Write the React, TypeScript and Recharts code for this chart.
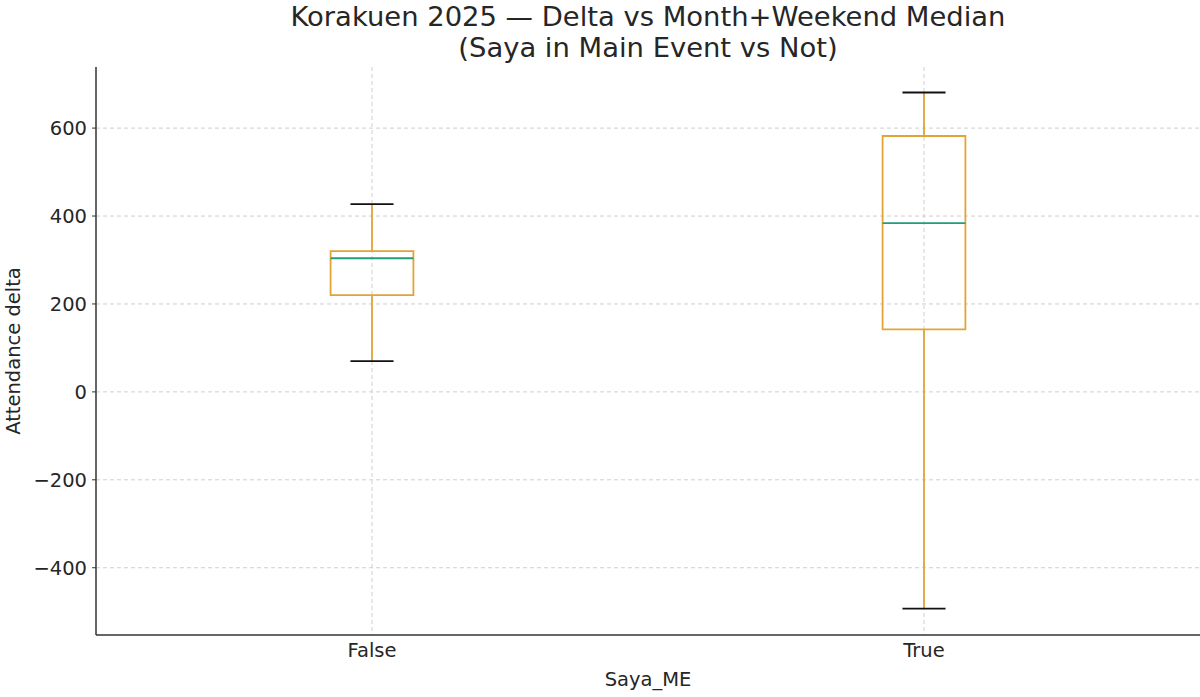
import React from "react";
import {
  ComposedChart,
  XAxis,
  YAxis,
  CartesianGrid,
  ReferenceArea,
  ReferenceLine,
  Scatter,
} from "recharts";

// ---- data ----
const categories = ["False", "True"];
const positions = [1, 2];
const whiskerLow = [70, -493];
const q1 = [220, 142];
const median = [304, 384];
const q3 = [320, 582];
const whiskerHigh = [427, 681];
const yTicks = [-400, -200, 0, 200, 400, 600];

const BOX_HALF = 0.075;
const CAP_HALF = 0.039;
const BOX_COLOR = "#E3A336";
const MEDIAN_COLOR = "#1F9E7A";
const FONT = "'DejaVu Sans', sans-serif";
const TEXT = "#262626";
const SW = 1.8;

const points = positions.map((p, i) => ({ x: p, y: median[i] }));

export default function App() {
  return (
    <div
      style={{
        position: "absolute",
        left: 0,
        top: 0,
        width: 1200,
        height: 697,
        background: "#fff",
        fontFamily: FONT,
        overflow: "hidden",
      }}
    >
      <div
        style={{
          position: "absolute",
          left: 96,
          width: 1104,
          top: 1,
          textAlign: "center",
          fontSize: 27.4,
          lineHeight: "31px",
          color: TEXT,
        }}
      >
        Korakuen 2025 — Delta vs Month+Weekend Median
        <br />
        (Saya in Main Event vs Not)
      </div>
      <ComposedChart
        width={1200}
        height={697}
        data={points}
        margin={{ top: 67, right: 0, bottom: 0, left: 0 }}
      >
        <CartesianGrid
          stroke="#cfcfcf"
          strokeDasharray="4 3"
          verticalValues={positions}
          horizontalValues={yTicks}
        />
        <XAxis
          type="number"
          dataKey="x"
          domain={[0.5, 2.5]}
          ticks={positions}
          allowDataOverflow
          tickFormatter={(v: number) => categories[positions.indexOf(v)] ?? ""}
          tickLine={false}
          tickSize={0}
          tickMargin={8}
          axisLine={{ stroke: "#333", strokeWidth: 1.5 }}
          tick={{ fill: TEXT, fontSize: 19.5, fontFamily: FONT }}
          height={62}
          label={{
            value: "Saya_ME",
            position: "insideBottom",
            offset: 11,
            fill: TEXT,
            fontSize: 19.5,
            fontFamily: FONT,
          }}
        />
        <YAxis
          type="number"
          dataKey="y"
          domain={[-553, 739]}
          ticks={yTicks}
          allowDataOverflow
          tickLine={{ stroke: "#333", strokeWidth: 1 }}
          tickSize={4}
          tickMargin={5}
          width={96}
          axisLine={{ stroke: "#333", strokeWidth: 1.5 }}
          tick={{ fill: TEXT, fontSize: 19.5, fontFamily: FONT }}
          tickFormatter={(v: number) => (v < 0 ? "\u2212" + Math.abs(v) : String(v))}
          label={{
            value: "Attendance delta",
            angle: -90,
            position: "insideLeft",
            offset: 13,
            style: { textAnchor: "middle" },
            fill: TEXT,
            fontSize: 19.5,
            fontFamily: FONT,
          }}
        />
        {positions.map((p, i) => (
          <ReferenceLine
            key={"wl" + i}
            segment={[
              { x: p, y: whiskerLow[i] },
              { x: p, y: q1[i] },
            ]}
            stroke={BOX_COLOR}
            strokeWidth={SW}
            ifOverflow="visible"
          />
        ))}
        {positions.map((p, i) => (
          <ReferenceLine
            key={"wh" + i}
            segment={[
              { x: p, y: q3[i] },
              { x: p, y: whiskerHigh[i] },
            ]}
            stroke={BOX_COLOR}
            strokeWidth={SW}
            ifOverflow="visible"
          />
        ))}
        {positions.map((p, i) => (
          <ReferenceArea
            key={"box" + i}
            x1={p - BOX_HALF}
            x2={p + BOX_HALF}
            y1={q1[i]}
            y2={q3[i]}
            fill="none"
            fillOpacity={0}
            stroke={BOX_COLOR}
            strokeWidth={SW}
            ifOverflow="visible"
          />
        ))}
        {positions.map((p, i) => (
          <ReferenceLine
            key={"med" + i}
            segment={[
              { x: p - BOX_HALF, y: median[i] },
              { x: p + BOX_HALF, y: median[i] },
            ]}
            stroke={MEDIAN_COLOR}
            strokeWidth={SW}
            ifOverflow="visible"
          />
        ))}
        {positions.map((p, i) => (
          <ReferenceLine
            key={"capl" + i}
            segment={[
              { x: p - CAP_HALF, y: whiskerLow[i] },
              { x: p + CAP_HALF, y: whiskerLow[i] },
            ]}
            stroke="#111"
            strokeWidth={SW}
            ifOverflow="visible"
          />
        ))}
        {positions.map((p, i) => (
          <ReferenceLine
            key={"caph" + i}
            segment={[
              { x: p - CAP_HALF, y: whiskerHigh[i] },
              { x: p + CAP_HALF, y: whiskerHigh[i] },
            ]}
            stroke="#111"
            strokeWidth={SW}
            ifOverflow="visible"
          />
        ))}
        <Scatter
          dataKey="y"
          isAnimationActive={false}
          shape={() => <g />}
        />
      </ComposedChart>
    </div>
  );
}
